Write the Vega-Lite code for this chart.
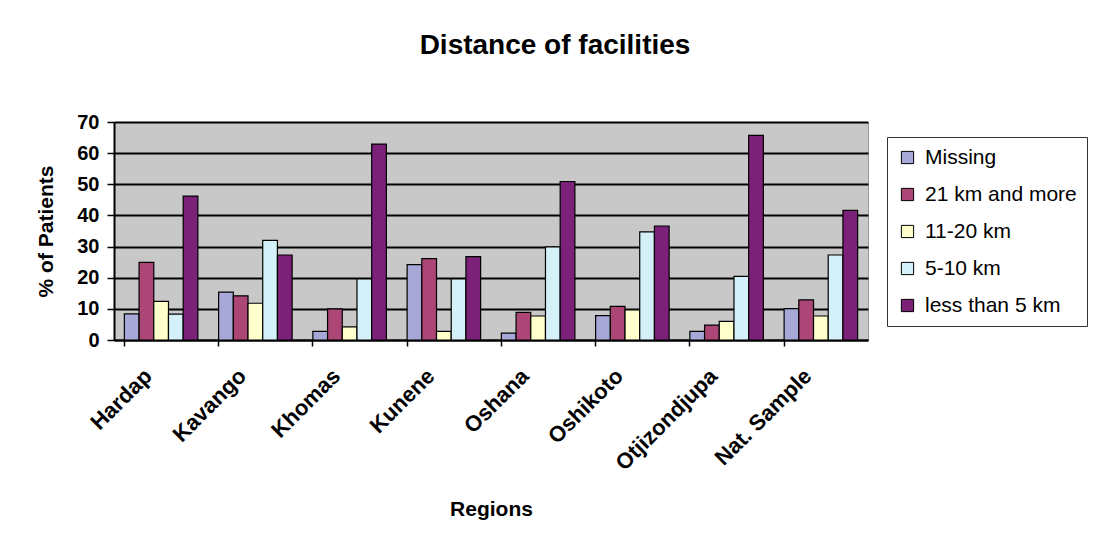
{
  "$schema": "https://vega.github.io/schema/vega-lite/v6.json",
  "width": 754,
  "height": 218,
  "autosize": {"type": "none"},
  "padding": {"left": 114, "top": 122, "right": 226, "bottom": 202},
  "background": "white",
  "title": {
    "text": "Distance of facilities",
    "font": "Liberation Sans",
    "fontSize": 28,
    "fontWeight": "bold",
    "color": "black",
    "anchor": "middle",
    "dx": 64,
    "offset": 52
  },
  "data": {
    "values": [
      {"region": "Hardap", "distance": "Missing", "pct": 8.4},
      {"region": "Hardap", "distance": "21 km and more", "pct": 24.9},
      {"region": "Hardap", "distance": "11-20 km", "pct": 12.4},
      {"region": "Hardap", "distance": "5-10 km", "pct": 8.3},
      {"region": "Hardap", "distance": "less than 5 km", "pct": 46.2},
      {"region": "Kavango", "distance": "Missing", "pct": 15.4},
      {"region": "Kavango", "distance": "21 km and more", "pct": 14.2},
      {"region": "Kavango", "distance": "11-20 km", "pct": 11.8},
      {"region": "Kavango", "distance": "5-10 km", "pct": 32.0},
      {"region": "Kavango", "distance": "less than 5 km", "pct": 27.3},
      {"region": "Khomas", "distance": "Missing", "pct": 2.8},
      {"region": "Khomas", "distance": "21 km and more", "pct": 10.0},
      {"region": "Khomas", "distance": "11-20 km", "pct": 4.2},
      {"region": "Khomas", "distance": "5-10 km", "pct": 19.6},
      {"region": "Khomas", "distance": "less than 5 km", "pct": 62.9},
      {"region": "Kunene", "distance": "Missing", "pct": 24.2},
      {"region": "Kunene", "distance": "21 km and more", "pct": 26.1},
      {"region": "Kunene", "distance": "11-20 km", "pct": 2.8},
      {"region": "Kunene", "distance": "5-10 km", "pct": 19.6},
      {"region": "Kunene", "distance": "less than 5 km", "pct": 26.8},
      {"region": "Oshana", "distance": "Missing", "pct": 2.2},
      {"region": "Oshana", "distance": "21 km and more", "pct": 8.9},
      {"region": "Oshana", "distance": "11-20 km", "pct": 7.7},
      {"region": "Oshana", "distance": "5-10 km", "pct": 29.9},
      {"region": "Oshana", "distance": "less than 5 km", "pct": 50.9},
      {"region": "Oshikoto", "distance": "Missing", "pct": 7.8},
      {"region": "Oshikoto", "distance": "21 km and more", "pct": 10.8},
      {"region": "Oshikoto", "distance": "11-20 km", "pct": 9.7},
      {"region": "Oshikoto", "distance": "5-10 km", "pct": 34.7},
      {"region": "Oshikoto", "distance": "less than 5 km", "pct": 36.6},
      {"region": "Otjizondjupa", "distance": "Missing", "pct": 2.8},
      {"region": "Otjizondjupa", "distance": "21 km and more", "pct": 4.8},
      {"region": "Otjizondjupa", "distance": "11-20 km", "pct": 6.0},
      {"region": "Otjizondjupa", "distance": "5-10 km", "pct": 20.4},
      {"region": "Otjizondjupa", "distance": "less than 5 km", "pct": 65.7},
      {"region": "Nat. Sample", "distance": "Missing", "pct": 10.1},
      {"region": "Nat. Sample", "distance": "21 km and more", "pct": 12.9},
      {"region": "Nat. Sample", "distance": "11-20 km", "pct": 7.7},
      {"region": "Nat. Sample", "distance": "5-10 km", "pct": 27.3},
      {"region": "Nat. Sample", "distance": "less than 5 km", "pct": 41.6}
    ]
  },
  "mark": {"type": "bar", "stroke": "black", "strokeWidth": 1.2},
  "encoding": {
    "x": {
      "field": "region",
      "type": "nominal",
      "sort": ["Hardap", "Kavango", "Khomas", "Kunene", "Oshana", "Oshikoto", "Otjizondjupa", "Nat. Sample"],
      "scale": {"paddingInner": 0.22, "paddingOuter": 0.11},
      "axis": {
        "title": "Regions",
        "titleFont": "Liberation Sans",
        "titleFontSize": 21,
        "titleFontWeight": "bold",
        "titleColor": "black",
        "titleBaseline": "alphabetic",
        "titleY": 175,
        "labelAngle": -45,
        "labelFont": "Liberation Sans",
        "labelFontSize": 22,
        "labelFontWeight": "bold",
        "labelColor": "black",
        "labelPadding": 19,
        "labelOffset": -20,
        "bandPosition": 0,
        "tickColor": "black",
        "tickSize": 6,
        "tickWidth": 1.5,
        "domainColor": "black",
        "domainWidth": 2
      }
    },
    "xOffset": {
      "field": "distance",
      "type": "nominal",
      "sort": ["Missing", "21 km and more", "11-20 km", "5-10 km", "less than 5 km"],
      "scale": {"paddingInner": 0}
    },
    "y": {
      "field": "pct",
      "type": "quantitative",
      "scale": {"domain": [0, 70], "nice": false},
      "axis": {
        "title": "% of Patients",
        "titleFont": "Liberation Sans",
        "titleFontSize": 21,
        "titleFontWeight": "bold",
        "titleColor": "black",
        "titleX": -62,
        "titleY": 109,
        "titleAlign": "center",
        "titleBaseline": "alphabetic",
        "values": [0, 10, 20, 30, 40, 50, 60, 70],
        "labelFont": "Liberation Sans",
        "labelFontSize": 20,
        "labelFontWeight": "bold",
        "labelColor": "black",
        "labelPadding": 8,
        "tickColor": "black",
        "tickSize": 7,
        "tickWidth": 1.5,
        "domainColor": "black",
        "domainWidth": 2,
        "grid": true,
        "gridColor": "black",
        "gridWidth": 2
      }
    },
    "color": {
      "field": "distance",
      "type": "nominal",
      "sort": ["Missing", "21 km and more", "11-20 km", "5-10 km", "less than 5 km"],
      "scale": {
        "domain": ["Missing", "21 km and more", "11-20 km", "5-10 km", "less than 5 km"],
        "range": ["#A8A8D8", "#AC4676", "#FFFFCC", "#D4F0F8", "#7B2177"]
      },
      "legend": {
        "title": null,
        "orient": "none",
        "legendX": 773,
        "legendY": 15,
        "symbolType": "square",
        "symbolSize": 150,
        "symbolStrokeColor": "black",
        "symbolStrokeWidth": 1,
        "labelFont": "Liberation Sans",
        "labelFontSize": 21,
        "labelColor": "black",
        "labelOffset": 7,
        "rowPadding": 15,
        "padding": 10,
        "strokeColor": "#333",
        "fillColor": "white",
        "labelLimit": 300
      }
    }
  },
  "config": {
    "view": {"fill": "#C8C8C8", "stroke": "#999", "strokeWidth": 1}
  }
}
